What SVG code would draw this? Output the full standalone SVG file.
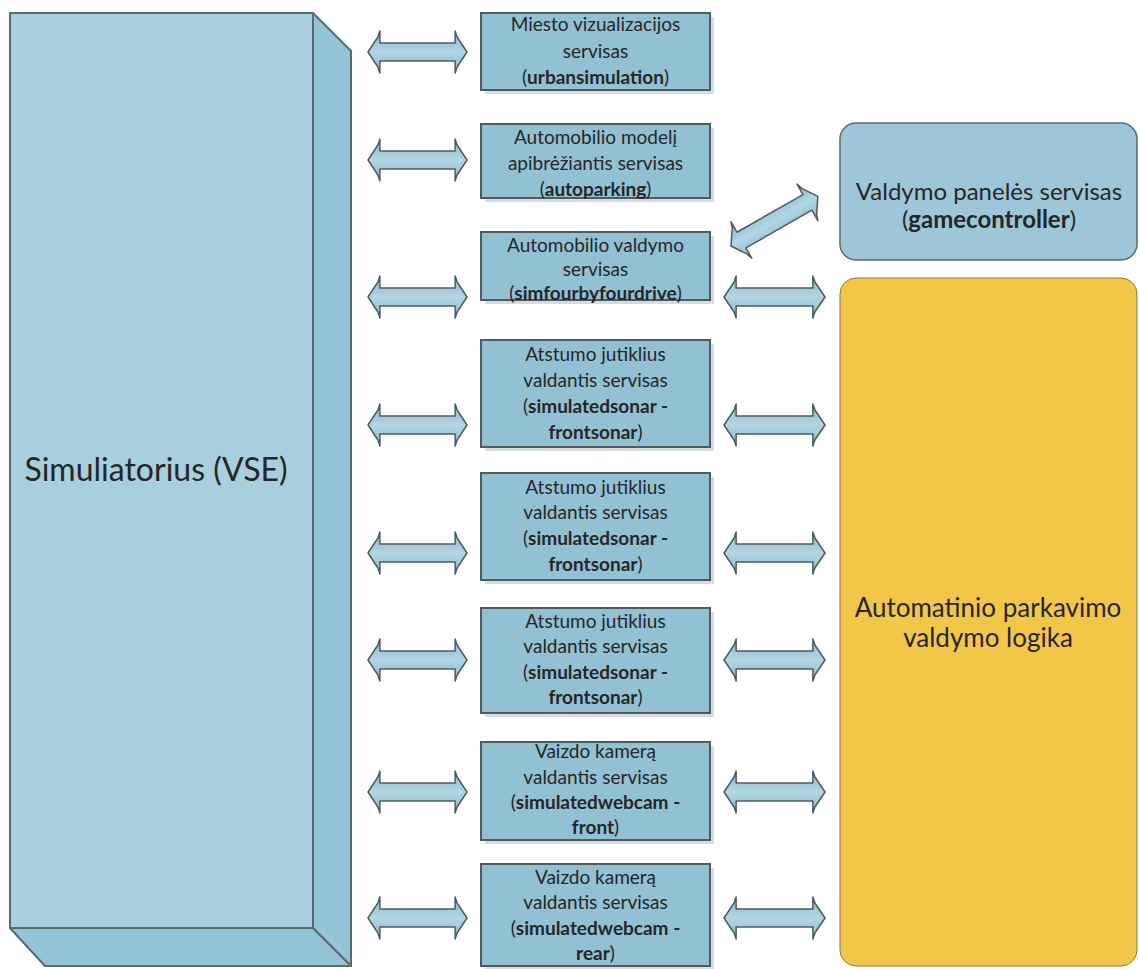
<svg xmlns="http://www.w3.org/2000/svg" width="1139" height="969" viewBox="0 0 1139 969">
<defs>
<linearGradient id="ag" x1="0" y1="0" x2="0" y2="1">
<stop offset="0" stop-color="#86B8CC"/>
<stop offset="0.5" stop-color="#B2D6E4"/>
<stop offset="1" stop-color="#86B8CC"/>
</linearGradient>
<path id="dbl" d="M0,0 L10,-15 L12,-21 L12,-9 L88,-9 L88,-21 L90,-15 L100,0 L90,15 L88,21 L88,9 L12,9 L12,21 L10,15 Z"/>
</defs>
<style>
.front{fill:#A8CFDD;stroke:#5A6A70;stroke-width:2}
.side{fill:#93C4D8;stroke:#5A6A70;stroke-width:2;stroke-linejoin:round}
.svc{fill:#93C1D4;stroke:#4E5B60;stroke-width:2}
.shd{fill:#C9CDCF;opacity:0.7}
.arr{fill:url(#ag);stroke:#505A5E;stroke-width:1.5;stroke-linejoin:round}
.t{font-family:Lato,"Liberation Sans",sans-serif;fill:#262626;text-anchor:middle}
.s{font-size:19px}
.b{font-weight:bold}
</style>
<rect width="1139" height="969" fill="#FFFFFF"/>
<g id="simulator">
<polygon class="side" points="313,13 351,51 351,966 313,928"/>
<polygon class="side" points="10,928 313,928 351,966 45,966"/>
<rect class="front" x="10" y="13" width="303" height="915"/>
<text class="t" x="156" y="481" font-size="32">Simuliatorius (VSE)</text>
</g>
<g id="connectors">
<use href="#dbl" class="arr" transform="translate(368,52) scale(0.99,1)"/>
<use href="#dbl" class="arr" transform="translate(368,160) scale(0.99,1)"/>
<use href="#dbl" class="arr" transform="translate(368,297) scale(0.99,1)"/>
<use href="#dbl" class="arr" transform="translate(368,425) scale(0.99,1)"/>
<use href="#dbl" class="arr" transform="translate(368,553) scale(0.99,1)"/>
<use href="#dbl" class="arr" transform="translate(368,660) scale(0.99,1)"/>
<use href="#dbl" class="arr" transform="translate(368,792) scale(0.99,1)"/>
<use href="#dbl" class="arr" transform="translate(368,918) scale(0.99,1)"/>
<use href="#dbl" class="arr" transform="translate(724,297) scale(1.01,1)"/>
<use href="#dbl" class="arr" transform="translate(724,425) scale(1.01,1)"/>
<use href="#dbl" class="arr" transform="translate(724,553) scale(1.01,1)"/>
<use href="#dbl" class="arr" transform="translate(724,660) scale(1.01,1)"/>
<use href="#dbl" class="arr" transform="translate(724,792) scale(1.01,1)"/>
<use href="#dbl" class="arr" transform="translate(724,918) scale(1.01,1)"/>
<use href="#dbl" class="arr" transform="translate(731,246) rotate(-29.7)"/>
</g>
<g id="svc1">
<rect class="shd" x="485" y="17" width="229" height="77"/>
<rect class="svc" x="481" y="13" width="229" height="77"/>
<text class="t s" x="595.5" y="31">Miesto vizualizacijos</text>
<text class="t s" x="595.5" y="58">servisas</text>
<text class="t s" x="595.5" y="84">(<tspan class="b">urbansimulation</tspan>)</text>
</g>
<g id="svc2">
<rect class="shd" x="485" y="128" width="229" height="74"/>
<rect class="svc" x="481" y="124" width="229" height="74"/>
<text class="t s" x="595.5" y="144">Automobilio modelį</text>
<text class="t s" x="595.5" y="170">apibrėžiantis servisas</text>
<text class="t s" x="595.5" y="196">(<tspan class="b">autoparking</tspan>)</text>
</g>
<g id="svc3">
<rect class="shd" x="485" y="236" width="229" height="68"/>
<rect class="svc" x="481" y="232" width="229" height="68"/>
<text class="t s" x="595.5" y="252">Automobilio valdymo</text>
<text class="t s" x="595.5" y="276">servisas</text>
<text class="t s" x="595.5" y="300">(<tspan class="b">simfourbyfourdrive</tspan>)</text>
</g>
<g id="svc4">
<rect class="shd" x="485" y="344" width="229" height="107"/>
<rect class="svc" x="481" y="340" width="229" height="107"/>
<text class="t s" x="595.5" y="361">Atstumo jutiklius</text>
<text class="t s" x="595.5" y="387">valdantis servisas</text>
<text class="t s" x="595.5" y="413">(<tspan class="b">simulatedsonar -</tspan></text>
<text class="t s b" x="595.5" y="439">frontsonar<tspan font-weight="normal">)</tspan></text>
</g>
<g id="svc5">
<rect class="shd" x="485" y="477" width="229" height="107"/>
<rect class="svc" x="481" y="473" width="229" height="107"/>
<text class="t s" x="595.5" y="494">Atstumo jutiklius</text>
<text class="t s" x="595.5" y="519">valdantis servisas</text>
<text class="t s" x="595.5" y="545">(<tspan class="b">simulatedsonar -</tspan></text>
<text class="t s b" x="595.5" y="571">frontsonar<tspan font-weight="normal">)</tspan></text>
</g>
<g id="svc6">
<rect class="shd" x="485" y="612" width="229" height="105"/>
<rect class="svc" x="481" y="608" width="229" height="105"/>
<text class="t s" x="595.5" y="628">Atstumo jutiklius</text>
<text class="t s" x="595.5" y="653">valdantis servisas</text>
<text class="t s" x="595.5" y="679">(<tspan class="b">simulatedsonar -</tspan></text>
<text class="t s b" x="595.5" y="704">frontsonar<tspan font-weight="normal">)</tspan></text>
</g>
<g id="svc7">
<rect class="shd" x="485" y="746" width="229" height="98"/>
<rect class="svc" x="481" y="742" width="229" height="98"/>
<text class="t s" x="595.5" y="758">Vaizdo kamerą</text>
<text class="t s" x="595.5" y="784">valdantis servisas</text>
<text class="t s" x="595.5" y="809">(<tspan class="b">simulatedwebcam -</tspan></text>
<text class="t s b" x="595.5" y="834">front<tspan font-weight="normal">)</tspan></text>
</g>
<g id="svc8">
<rect class="shd" x="485" y="868" width="229" height="101"/>
<rect class="svc" x="481" y="864" width="229" height="102"/>
<text class="t s" x="595.5" y="884">Vaizdo kamerą</text>
<text class="t s" x="595.5" y="909">valdantis servisas</text>
<text class="t s" x="595.5" y="935">(<tspan class="b">simulatedwebcam -</tspan></text>
<text class="t s b" x="595.5" y="960">rear<tspan font-weight="normal">)</tspan></text>
</g>
<g id="gamecontroller">
<rect x="840" y="123" width="297" height="137" rx="16" fill="#9DC6D8" stroke="#5A6A70" stroke-width="1.5"/>
<text class="t" x="989" y="200" font-size="24">Valdymo panelės servisas</text>
<text class="t" x="989" y="228" font-size="24">(<tspan class="b">gamecontroller</tspan>)</text>
</g>
<g id="logic">
<rect x="840" y="278" width="297" height="688" rx="16" fill="#F2C649" stroke="#8A7A40" stroke-width="1"/>
<text class="t" x="988" y="617" font-size="26">Automatinio parkavimo</text>
<text class="t" x="988" y="647" font-size="26">valdymo logika</text>
</g>
</svg>
